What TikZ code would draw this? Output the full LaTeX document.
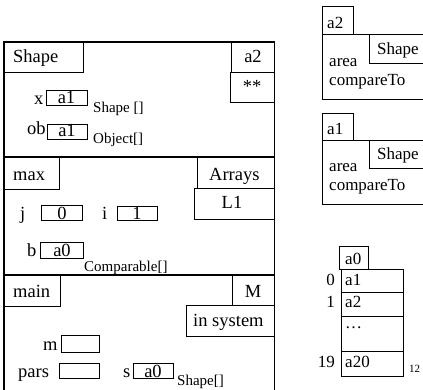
\documentclass[tikz,border=0pt]{standalone}
\usepackage{fontspec}
\setmainfont{Liberation Serif}
\begin{document}
\begin{tikzpicture}[x=1pt,y=-1pt,
  frame/.style={draw, line width=1.6pt},
  cell/.style={draw, line width=0.8pt},
  lbl/.style={anchor=base west, inner sep=0pt, font=\fontsize{18.5}{20}\selectfont},
  val/.style={anchor=base, inner sep=0pt, font=\fontsize{18.5}{20}\selectfont},
  obj/.style={anchor=base west, inner sep=0pt, font=\fontsize{17}{19}\selectfont},
  idx/.style={anchor=base east, inner sep=0pt, font=\fontsize{17}{19}\selectfont},
  sub/.style={anchor=base west, inner sep=0pt, font=\fontsize{15}{17}\selectfont},
  tiny/.style={anchor=base west, inner sep=0pt, font=\fontsize{11}{13}\selectfont},
]
\useasboundingbox (0,0) rectangle (423,390);

% ---- call stack: three frames ----
\draw[frame] (4,42) rectangle (274.5,393);
\draw[frame] (4,157) -- (274.5,157);
\draw[frame] (4,275) -- (274.5,275);

% frame of Shape
\draw[cell] (4,42) rectangle (83,72);
\node[lbl] (fShape) at (13,63) {Shape};
\draw[cell] (231.5,42) rectangle (274.5,72);
\node[val] (fShapeRet) at (253,63) {a2};
\draw[cell] (230,72) rectangle (274.5,102);
\node[val] (fShapeStar) at (252,93) {**};
\node[lbl] (vx) at (34,105) {x};
\draw[cell] (46,90) rectangle (87,105);
\node[val] (vxval) at (66.5,104) {a1};
\node[sub] (vxtype) at (93,113) {Shape []};
\node[lbl] (vob) at (27,135) {ob};
\draw[cell] (47,124) rectangle (87,139);
\node[val] (vobval) at (67,137) {a1};
\node[sub] (vobtype) at (93,144) {Object[]};

% frame of max
\draw[cell] (4,157) rectangle (59,189);
\node[lbl] (fMax) at (13,181) {max};
\draw[cell] (197,157) rectangle (274.5,188);
\node[lbl] (fMaxCls) at (209,181) {Arrays};
\draw[cell] (194,188) rectangle (274.5,219);
\node[val] (fMaxRet) at (232,209) {L1};
\node[lbl] (vj) at (20,219) {j};
\draw[cell] (41,205) rectangle (82,220);
\node[val] (vjval) at (62,219) {0};
\node[lbl] (vi) at (102,219) {i};
\draw[cell] (117,206) rectangle (157,220);
\node[val] (vival) at (137,219) {1};
\node[lbl] (vb) at (27,257) {b};
\draw[cell] (40,242) rectangle (83,258.5);
\node[val] (vbval) at (62,257) {a0};
\node[sub] (vbtype) at (84,271) {Comparable[]};

% frame of main
\draw[cell] (4,275) rectangle (60,306);
\node[lbl] (fMain) at (13,297) {main};
\draw[cell] (232,275) rectangle (274.5,305);
\node[val] (fMainCls) at (253,297) {M};
\draw[cell] (186,305) rectangle (274.5,336);
\node[lbl] (fMainRet) at (193,326) {in system};
\node[lbl] (vm) at (43,350) {m};
\draw[cell] (61,335) rectangle (99,352);
\node[lbl] (vpars) at (18,377) {pars};
\draw[cell] (59,363) rectangle (99,378);
\node[lbl] (vs) at (123,377) {s};
\draw[cell] (133,363) rectangle (173,378);
\node[val] (vsval) at (153,377) {a0};
\node[sub] (vstype) at (177,385) {Shape[]};

% ---- heap: object a2 ----
\draw[cell] (322,6) rectangle (353,34);
\node[obj] (oA2) at (327,29) {a2};
\draw[cell] (322,34) rectangle (426,99);
\draw[cell] (369,34) rectangle (426,63);
\node[obj] (oA2cls) at (377,55) {Shape};
\node[obj] (oA2f1) at (329,67) {area};
\node[obj] (oA2f2) at (329,86) {compareTo};

% ---- heap: object a1 ----
\draw[cell] (322,113) rectangle (353,140);
\node[obj] (oA1) at (327,135) {a1};
\draw[cell] (322,140) rectangle (426,204);
\draw[cell] (369,140) rectangle (426,168);
\node[obj] (oA1cls) at (377,160) {Shape};
\node[obj] (oA1f1) at (329,172) {area};
\node[obj] (oA1f2) at (329,191) {compareTo};

% ---- heap: array a0 ----
\draw[cell] (339,246) rectangle (368,269);
\node[obj] (oA0) at (345,265) {a0};
\draw[cell] (341,269) rectangle (403,376);
\draw[cell] (341,292) -- (403,292);
\draw[cell] (341,316) -- (403,316);
\draw[cell] (341,351) -- (403,351);
\node[idx] (i0) at (335,285) {0};
\node[idx] (i1) at (335,307) {1};
\node[idx] (i19) at (335,367) {19};
\node[obj] (e0) at (345,285) {a1};
\node[obj] (e1) at (345,307) {a2};
\node[obj] (edots) at (345,328) {…};
\node[obj] (e19) at (345,367) {a20};
\node[tiny] (alen) at (409,372) {12};
\end{tikzpicture}
\end{document}
